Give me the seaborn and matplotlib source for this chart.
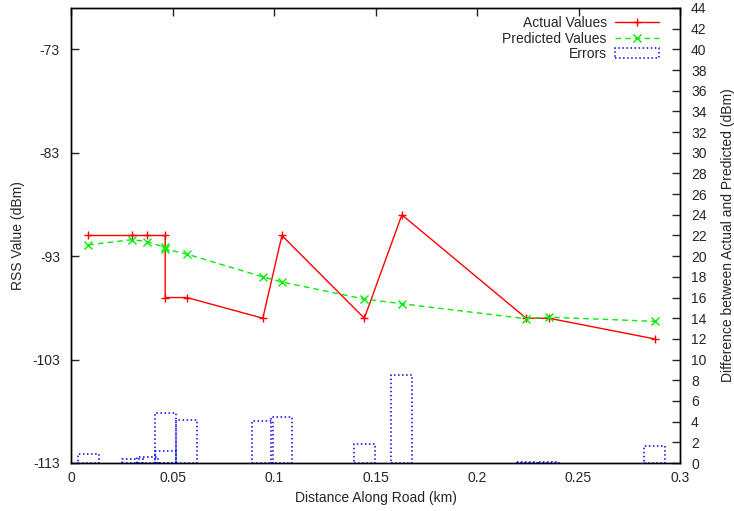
import pandas as pd
import seaborn as sns
import matplotlib.pyplot as plt
from matplotlib.ticker import FuncFormatter, MultipleLocator

# values
distance = [0.0085, 0.0302, 0.0376, 0.0464, 0.0464, 0.0571, 0.0945, 0.1039,
            0.1445, 0.1630, 0.2242, 0.2354, 0.2875]
actual = [-91, -91, -91, -91, -97, -97, -99, -91, -99, -89, -99, -99, -101]
predicted = [-91.9, -91.4, -91.6, -92.15, -92.3, -92.8, -95.0, -95.5,
             -97.15, -97.6, -99.05, -98.9, -99.3]
errors = [0.85, 0.4, 0.6, 1.15, 4.8, 4.2, 4.05, 4.45, 1.8, 8.55, 0.05, 0.1, 1.65]

xticks = [0, 0.05, 0.1, 0.15, 0.2, 0.25, 0.3]
left_ticks = [-113, -103, -93, -83, -73]

df = pd.DataFrame({"dist": distance, "actual": actual, "pred": predicted, "err": errors})

sns.set_style("white")
plt.rcParams['font.family'] = ['Liberation Sans', 'DejaVu Sans']
plt.rcParams['axes.unicode_minus'] = False
fs = 10

fig = plt.figure(figsize=(7.34, 5.11), dpi=100)
ax = fig.add_axes([71/734, 48/511, 609/734, 455/511])
ax2 = ax.twinx()

# error boxes on the right axis
bars = ax2.bar(df["dist"], df["err"], width=0.0104, fill=False, edgecolor='#0000ff',
               linestyle=':', linewidth=1.1, label='Errors')

# lines on the left axis
sns.lineplot(data=df, x="dist", y="actual", ax=ax, estimator=None, sort=False,
             color='#ff0000', lw=1, marker='+', markersize=6,
             markeredgewidth=1, markeredgecolor='#ff0000',
             label='Actual Values', legend=False)
sns.lineplot(data=df, x="dist", y="pred", ax=ax, estimator=None, sort=False,
             color='#00ee00', lw=1, linestyle=(0, (4, 3)), marker='x', markersize=5.5,
             markeredgewidth=1, markeredgecolor='#00ee00',
             label='Predicted Values', legend=False)

ax.set_xlim(0, 0.3)
ax.set_ylim(-113, -69)
ax2.set_ylim(0, 44)
ax.set_xticks(xticks)
ax.xaxis.set_major_formatter(FuncFormatter(lambda v, p: '%g' % v))
ax.set_yticks(left_ticks)
ax2.yaxis.set_major_locator(MultipleLocator(2))

ax.tick_params(axis='x', direction='in', length=6, top=True, labelsize=fs, pad=6, width=1)
ax.tick_params(axis='y', direction='in', length=6, left=True, right=False, labelsize=fs, pad=8, width=1)
ax2.tick_params(axis='y', direction='in', length=6, right=True, labelsize=fs, pad=8, width=1)

for a in (ax, ax2):
    for s in a.spines.values():
        s.set_color('black')
        s.set_linewidth(1)

ax.set_xlabel("Distance Along Road (km)", fontsize=fs, labelpad=4)
ax.set_ylabel("RSS Value (dBm)", fontsize=fs, labelpad=5)
ax2.set_ylabel("Difference between Actual and Predicted (dBm)", fontsize=fs, labelpad=10)

h1, l1 = ax.get_legend_handles_labels()
h2, l2 = ax2.get_legend_handles_labels()
ax2.legend(h1 + h2, l1 + l2, loc='upper right', frameon=False, markerfirst=False,
           fontsize=fs, handlelength=3.2, labelspacing=0.1, handletextpad=0.6,
           borderaxespad=0.2, bbox_to_anchor=(0.98, 1.0))

fig.savefig("out.png", dpi=100)
